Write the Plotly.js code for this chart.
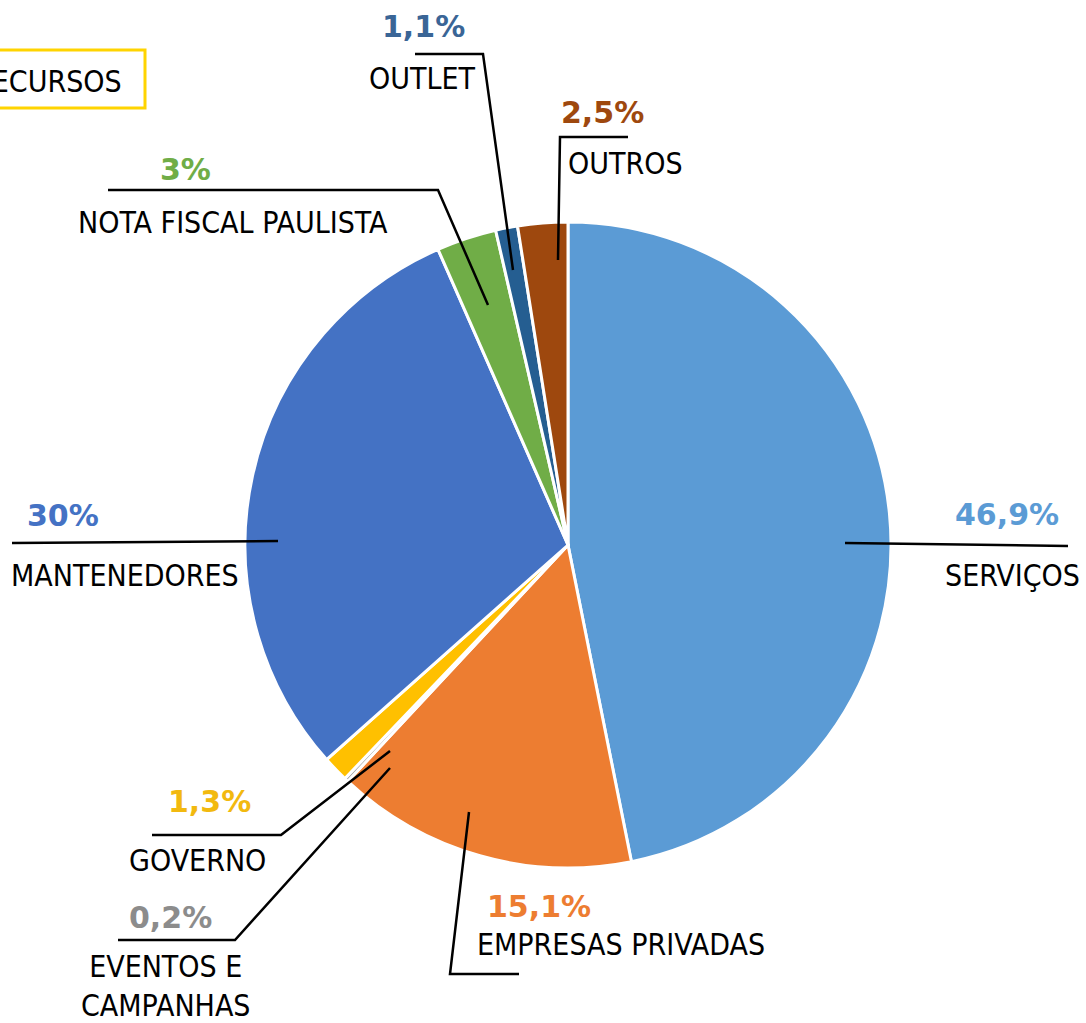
<!DOCTYPE html>
<html>
<head>
<meta charset="utf-8">
<script src="https://cdn.plot.ly/plotly-3.0.1.min.js"></script>
<style>html,body{margin:0;padding:0;background:#fff;}#chart{width:1086px;height:1023px;}</style>
</head>
<body>
<div id="chart"></div>
<script>
// ---- data ----
const categories = ["SERVIÇOS", "EMPRESAS PRIVADAS", "EVENTOS E<br>CAMPANHAS", "GOVERNO", "MANTENEDORES", "NOTA FISCAL PAULISTA", "OUTLET", "OUTROS"];
const values = [46.9, 15.1, 0.2, 1.3, 30.0, 3.0, 1.1, 2.5];
const pctLabels = ["46,9%", "15,1%", "0,2%", "1,3%", "30%", "3%", "1,1%", "2,5%"];
const titleText = "RECURSOS";

// ---- styles ----
const sliceColors = ["#5B9BD5", "#ED7D31", "#A5A5A5", "#FFC000", "#4472C4", "#70AD47", "#255E91", "#9E480E"];
const pctColors = ["#5B9BD5", "#ED7D31", "#8C8C8C", "#F2B90F", "#4472C4", "#70AD47", "#3A6596", "#9E480E"];

const W = 1086, H = 1023;
const px = x => x / W;
const py = y => 1 - y / H;

// label layout (pixel positions): [nameX, nameY, nameAnchor, pctX, pctY, pctAnchor]
const labelPos = [
  [943, 575, "left", 953, 514, "left"],
  [475, 944, "left", 485, 906, "left"],
  [166, 986, "center", 127, 917, "left"],
  [127, 860, "left", 166, 801, "left"],
  [9, 575, "left", 25, 515, "left"],
  [76, 222, "left", 158, 170, "left"],
  [367, 78, "left", 380, 27, "left"],
  [566, 164, "left", 559, 112, "left"]
];
// leader line polylines (pixel positions)
const leaders = [
  [[845, 543], [1068, 546]],
  [[469, 812], [450, 974], [519, 974]],
  [[390, 768], [235, 940], [118, 940]],
  [[390, 751], [281, 835], [152, 835]],
  [[278, 541], [12, 543]],
  [[488, 305], [438, 190], [108, 190]],
  [[513, 270], [483, 54], [415, 54]],
  [[558, 260], [560, 137], [628, 137]]
];

const labelFont = "DejaVu Sans Condensed, DejaVu Sans, sans-serif";
const pctFont = "DejaVu Sans, sans-serif";

const cx = 568, cy = 545, r = 323;
const trace = {
  type: "pie",
  labels: categories,
  values: values,
  sort: false,
  direction: "clockwise",
  rotation: 0,
  textinfo: "none",
  hoverinfo: "label+percent",
  showlegend: false,
  marker: { colors: sliceColors, line: { color: "#FFFFFF", width: 3 } },
  domain: { x: [px(cx - r), px(cx + r)], y: [py(cy + r), py(cy - r)] }
};

const annotations = [];
categories.forEach((c, i) => {
  const p = labelPos[i];
  annotations.push({
    xref: "paper", yref: "paper", x: px(p[0]), y: py(p[1]),
    xanchor: p[2], yanchor: "middle", showarrow: false, align: "center",
    text: c, font: { family: labelFont, size: 30, color: "#000000" }
  });
  annotations.push({
    xref: "paper", yref: "paper", x: px(p[3]), y: py(p[4]),
    xanchor: p[5], yanchor: "middle", showarrow: false,
    text: "<b>" + pctLabels[i] + "</b>", font: { family: pctFont, size: 30, color: pctColors[i] }
  });
});
annotations.push({
  xref: "paper", yref: "paper", x: px(124), y: py(81), xanchor: "right", yanchor: "middle",
  showarrow: false, text: titleText, font: { family: labelFont, size: 30, color: "#000000" }
});

const shapes = leaders.map(pts => ({
  type: "path", xref: "paper", yref: "paper",
  path: pts.map((q, k) => (k ? "L" : "M") + px(q[0]) + "," + py(q[1])).join(" "),
  line: { color: "#000000", width: 2.5 }
}));
shapes.push({
  type: "rect", xref: "paper", yref: "paper",
  x0: px(-20), x1: px(145), y0: py(108), y1: py(50),
  line: { color: "#FFD400", width: 3 }
});

const layout = {
  width: W, height: H,
  margin: { l: 0, r: 0, t: 0, b: 0 },
  paper_bgcolor: "#FFFFFF",
  plot_bgcolor: "#FFFFFF",
  annotations: annotations,
  shapes: shapes
};

Plotly.newPlot("chart", [trace], layout, { displayModeBar: false, staticPlot: true });
</script>
</body>
</html>
